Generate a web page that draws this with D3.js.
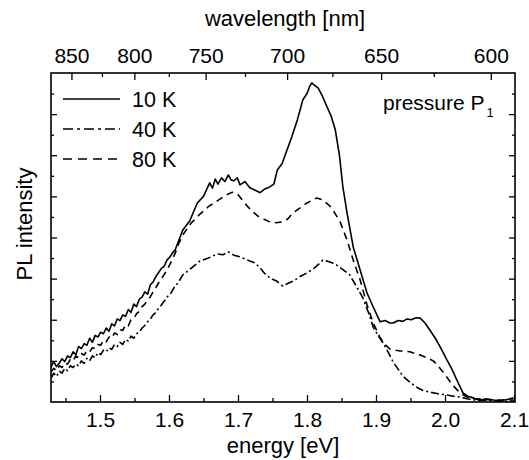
<!DOCTYPE html>
<html><head><meta charset="utf-8">
<script src="https://cdn.jsdelivr.net/npm/d3@7"></script>
<style>
html,body{margin:0;padding:0;background:#fff;}
svg{display:block;font-family:"Liberation Sans",Arial,Helvetica,sans-serif;}
</style></head>
<body><svg id="c" width="529" height="460"></svg>
<script>
// ---- data (energy in eV, intensity in arbitrary units) ----
const energy10 = [1.429,1.433,1.437,1.441,1.445,1.449,1.453,1.457,1.461,1.465,1.469,1.473,1.477,1.481,1.485,1.489,1.493,1.497,1.501,1.505,1.509,1.513,1.517,1.521,1.525,1.529,1.533,1.537,1.541,1.545,1.549,1.553,1.557,1.561,1.565,1.569,1.573,1.577,1.581,1.585,1.589,1.593,1.597,1.601,1.605,1.609,1.614,1.620,1.630,1.641,1.650,1.659,1.663,1.667,1.671,1.676,1.681,1.686,1.690,1.694,1.699,1.703,1.710,1.717,1.725,1.732,1.739,1.746,1.752,1.757,1.764,1.771,1.778,1.786,1.790,1.794,1.800,1.804,1.807,1.811,1.816,1.822,1.829,1.835,1.841,1.847,1.852,1.858,1.867,1.877,1.887,1.896,1.906,1.913,1.920,1.925,1.932,1.939,1.945,1.951,1.958,1.964,1.971,1.978,1.986,1.993,2.003,2.010,2.017,2.026,2.033,2.041,2.050,2.060,2.070,2.080,2.090,2.099];
const int10 = [0.85,0.98,0.86,0.95,1.05,0.98,1.12,1.08,1.22,1.15,1.35,1.30,1.42,1.38,1.55,1.45,1.62,1.58,1.70,1.66,1.80,1.72,1.90,1.85,2.02,1.98,2.12,2.08,2.25,2.18,2.38,2.32,2.50,2.55,2.68,2.62,2.85,2.92,3.05,3.15,3.25,3.30,3.45,3.52,3.62,3.70,3.92,4.18,4.40,4.84,5.00,5.33,5.20,5.42,5.30,5.45,5.36,5.52,5.40,5.38,5.45,5.28,5.36,5.21,5.15,5.09,5.18,5.23,5.30,5.64,5.80,6.13,6.45,6.86,7.10,7.35,7.50,7.68,7.76,7.70,7.64,7.45,7.18,6.95,6.62,6.00,5.23,4.60,3.77,3.21,2.65,2.31,1.95,1.98,1.92,1.92,1.98,1.96,2.02,2.00,2.05,2.04,1.92,1.75,1.55,1.34,1.02,0.80,0.54,0.22,0.14,0.10,0.04,0.08,0.05,0.03,0.06,0.10];

const energy40 = [1.429,1.433,1.437,1.441,1.445,1.449,1.453,1.457,1.461,1.465,1.469,1.473,1.477,1.481,1.485,1.489,1.493,1.497,1.501,1.505,1.509,1.513,1.517,1.521,1.525,1.529,1.533,1.537,1.541,1.545,1.549,1.553,1.557,1.561,1.565,1.569,1.573,1.577,1.581,1.585,1.589,1.593,1.597,1.602,1.608,1.614,1.620,1.632,1.645,1.657,1.670,1.678,1.686,1.694,1.703,1.710,1.717,1.725,1.732,1.739,1.746,1.755,1.765,1.772,1.780,1.790,1.800,1.810,1.817,1.823,1.830,1.837,1.843,1.852,1.862,1.872,1.881,1.889,1.896,1.903,1.910,1.918,1.925,1.932,1.939,1.949,1.959,1.968,1.978,1.990,2.003,2.012,2.022,2.032,2.041,2.060,2.080,2.100];
const int40 = [0.58,0.70,0.62,0.75,0.70,0.82,0.76,0.88,0.84,0.92,0.88,1.00,0.94,1.06,1.00,1.12,1.08,1.20,1.15,1.26,1.22,1.32,1.28,1.40,1.35,1.45,1.40,1.52,1.48,1.60,1.55,1.66,1.70,1.80,1.86,1.95,2.02,2.12,2.18,2.28,2.36,2.45,2.55,2.62,2.80,2.92,3.09,3.25,3.43,3.50,3.60,3.58,3.65,3.57,3.53,3.48,3.43,3.38,3.26,3.12,3.02,2.95,2.82,2.88,2.94,3.05,3.14,3.25,3.35,3.45,3.42,3.38,3.33,3.22,3.09,2.80,2.53,2.18,1.82,1.62,1.44,1.20,0.97,0.80,0.63,0.48,0.36,0.28,0.24,0.20,0.17,0.14,0.12,0.08,0.05,0.04,0.02,0.02];

const energy80 = [1.429,1.433,1.437,1.441,1.445,1.449,1.453,1.457,1.461,1.465,1.469,1.473,1.477,1.481,1.485,1.489,1.493,1.497,1.501,1.505,1.509,1.513,1.517,1.521,1.525,1.529,1.533,1.537,1.541,1.545,1.549,1.553,1.557,1.561,1.565,1.569,1.573,1.577,1.581,1.585,1.589,1.593,1.597,1.603,1.609,1.614,1.620,1.632,1.645,1.657,1.670,1.678,1.686,1.692,1.699,1.706,1.713,1.720,1.728,1.737,1.746,1.755,1.765,1.772,1.780,1.790,1.800,1.807,1.814,1.822,1.833,1.840,1.848,1.858,1.867,1.877,1.887,1.896,1.906,1.913,1.920,1.928,1.935,1.942,1.949,1.957,1.964,1.973,1.983,1.990,1.997,2.005,2.012,2.022,2.032,2.041,2.051,2.070,2.100];
const int80 = [0.73,0.82,0.76,0.88,0.84,0.95,0.92,1.04,1.00,1.12,1.08,1.18,1.14,1.25,1.22,1.32,1.30,1.40,1.38,1.50,1.46,1.58,1.55,1.68,1.64,1.76,1.74,1.88,1.85,2.00,2.02,2.15,2.20,2.32,2.38,2.48,2.56,2.68,2.78,2.90,3.00,3.10,3.21,3.40,3.62,3.85,4.06,4.35,4.57,4.75,4.89,4.98,5.06,5.10,5.06,4.92,4.77,4.65,4.53,4.45,4.38,4.36,4.38,4.45,4.60,4.72,4.84,4.90,4.96,4.92,4.77,4.60,4.38,3.94,3.45,2.97,2.36,1.92,1.56,1.40,1.29,1.26,1.24,1.24,1.22,1.18,1.14,1.08,1.00,0.88,0.73,0.55,0.39,0.22,0.12,0.08,0.07,0.05,0.05];

const seriesNames = ["10 K","40 K","80 K"];
const energyTicksMajor = [1.5,1.6,1.7,1.8,1.9,2.0,2.1];
const energyTickLabels = ["1.5","1.6","1.7","1.8","1.9","2.0","2.1"];
const wavelengthMajor = [850,800,750,700,650,600];
const wavelengthMinor = [825,775,725,675,625];
const intensityMajor = [0,1,2,3,4,5,6,7,8];

// ---- layout ----
const m = {left:51, right:515, top:73, bottom:402};
const svg = d3.select("#c");
const x = d3.scaleLinear().domain([1.429, 2.1]).range([m.left, m.right - 1]);
const y = d3.scaleLinear().domain([0, 8]).range([m.bottom, m.top]);
const hc = 1239.84;

const minorE = d3.range(1.45, 2.1, 0.1).map(v => +v.toFixed(2));
const minorI = d3.range(0.5, 8, 1);

function styleAxis(g){
  g.select(".domain").remove();
  g.selectAll("line").attr("stroke","#000").attr("stroke-width",1.3);
  g.selectAll("text").attr("fill","#000").attr("font-size",21);
}

// bottom axis
svg.append("g").attr("transform",`translate(0,${m.bottom})`)
  .call(d3.axisBottom(x).tickValues(energyTicksMajor).tickSize(-7).tickPadding(10)
    .tickFormat((d,i)=>energyTickLabels[i])).call(styleAxis);
svg.append("g").attr("transform",`translate(0,${m.bottom})`)
  .call(d3.axisBottom(x).tickValues(minorE).tickSize(-4).tickFormat("")).call(styleAxis);

// top axis (wavelength)
svg.append("g").attr("transform",`translate(0,${m.top})`)
  .call(d3.axisTop(x).tickValues(wavelengthMajor.map(l=>hc/l)).tickSize(-7).tickPadding(10)
    .tickFormat((d,i)=>String(wavelengthMajor[i]))).call(styleAxis);
svg.append("g").attr("transform",`translate(0,${m.top})`)
  .call(d3.axisTop(x).tickValues(wavelengthMinor.map(l=>hc/l)).tickSize(-4).tickFormat("")).call(styleAxis);

// left / right axes (no labels)
svg.append("g").attr("transform",`translate(${m.left},0)`)
  .call(d3.axisLeft(y).tickValues(intensityMajor.slice(1,-1)).tickSize(-6).tickFormat("")).call(styleAxis);
svg.append("g").attr("transform",`translate(${m.left},0)`)
  .call(d3.axisLeft(y).tickValues(minorI).tickSize(-3).tickFormat("")).call(styleAxis);
svg.append("g").attr("transform",`translate(${m.right},0)`)
  .call(d3.axisRight(y).tickValues(intensityMajor.slice(1,-1)).tickSize(-6).tickFormat("")).call(styleAxis);
svg.append("g").attr("transform",`translate(${m.right},0)`)
  .call(d3.axisRight(y).tickValues(minorI).tickSize(-3).tickFormat("")).call(styleAxis);

// frame
svg.append("rect").attr("x",m.left).attr("y",m.top)
  .attr("width",m.right-m.left).attr("height",m.bottom-m.top)
  .attr("fill","none").attr("stroke","#000").attr("stroke-width",1.6);

// curves
const line = d3.line().x(d=>x(d[0])).y(d=>y(d[1]));
const series = [
  {e:energy10, v:int10, dash:null},
  {e:energy40, v:int40, dash:"8,3,2,3"},
  {e:energy80, v:int80, dash:"7,5"}
];
svg.append("clipPath").attr("id","pc").append("rect")
  .attr("x",m.left).attr("y",m.top).attr("width",m.right-m.left).attr("height",m.bottom-m.top);
series.forEach(s=>{
  svg.append("path").datum(s.e.map((e,i)=>[e,s.v[i]]))
    .attr("clip-path","url(#pc)")
    .attr("d",line).attr("fill","none").attr("stroke","#000")
    .attr("stroke-width",1.6).attr("stroke-linejoin","round")
    .attr("stroke-dasharray",s.dash);
});

// legend
const legDash = [null,"10,4,3,4","9,6"];
seriesNames.forEach((n,i)=>{
  const yy = 99 + i*30;
  svg.append("line").attr("x1",63).attr("x2",120).attr("y1",yy).attr("y2",yy)
    .attr("stroke","#000").attr("stroke-width",1.6).attr("stroke-dasharray",legDash[i]);
  svg.append("text").attr("x",132).attr("y",yy+8).attr("font-size",21.5).attr("fill","#000").text(n);
});

// annotation
const ann = svg.append("text").attr("x",383).attr("y",110).attr("font-size",21).attr("fill","#000");
ann.append("tspan").text("pressure P");
ann.append("tspan").attr("font-size",13).attr("dy",7).attr("dx",2).attr("fill","#000").text("1");

// axis titles
svg.append("text").attr("x",(m.left+m.right)/2).attr("y",453).attr("text-anchor","middle")
  .attr("font-size",22).attr("fill","#000").text("energy [eV]");
svg.append("text").attr("x",(m.left+m.right)/2+2).attr("y",26).attr("text-anchor","middle")
  .attr("font-size",22).attr("fill","#000").text("wavelength [nm]");
svg.append("text").attr("transform",`translate(32,224) rotate(-90)`)
  .attr("text-anchor","middle").attr("font-size",22).attr("fill","#000").text("PL intensity");
</script></body></html>
